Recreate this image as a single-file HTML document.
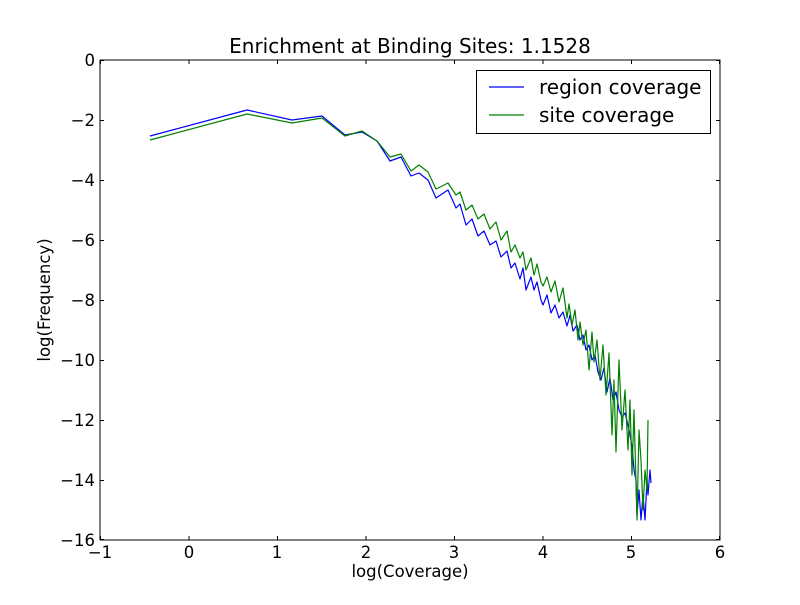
<!DOCTYPE html>
<html><head><style>body{margin:0;background:#fff}</style></head><body>
<svg width="800" height="600" xmlns="http://www.w3.org/2000/svg" font-family="DejaVu Sans, Liberation Sans, sans-serif">
<rect width="800" height="600" fill="#fff"/>
<text x="410" y="53" font-size="20" text-anchor="middle">Enrichment at Binding Sites: 1.1528</text>
<g fill="none" stroke-width="1.2" stroke-linejoin="round">
<polyline stroke="#0000ff" points="150,136 247,110 292,120 322,116 345,135 362,132 377,141 390,161 401,157 411,176 419,173 428,180 436,198 448,190 456,208 460,204 466,225 472,219 478,236 484,231 490,245 496,241 501,257 507,251 511,268 515,263 520,279 523,268 526,290 531,277 534,290 537,282 541,300 543,305 547,295 551,313 555,305 559,318 563,312 567,326 570,315 573,331 577,325 580,340 583,335 586,350 589,345 592,360 595,355 598,372 601,380 604,368 607,392 610,378 613,400 616,392 619,410 622,417 625,413 628,425 630,435 632,446 634,470 636,480 637,515 639,490 641,520 643,495 645,520 647,480 648,495 650,470 651,483"/>
<polyline stroke="#008000" points="150,140 247,114 292,123 322,118 345,136 362,131 377,141 390,157 401,154 411,171 419,165 428,172 436,189 448,183 456,195 460,192 466,210 472,205 478,219 484,214 490,229 496,222 501,240 507,231 511,252 515,245 520,258 523,252 526,270 531,258 534,275 537,264 541,282 543,286 547,277 551,292 555,281 559,302 563,288 567,318 569,304 572,325 575,310 578,340 580,322 583,345 586,330 589,370 592,332 594,362 597,340 600,380 603,345 606,395 609,353 612,435 614,380 616,452 619,360 622,430 625,390 628,450 630,400 632,475 634,410 637,520 639,430 641,460 643,510 645,470 647,490 648,420"/>
</g>
<rect x="100" y="60" width="620" height="480" fill="none" stroke="#000" stroke-width="1"/>
<g stroke="#000" stroke-width="1">
<path d="M100.5,540v-4M189,540v-4M277.5,540v-4M366,540v-4M454.5,540v-4M543,540v-4M631.5,540v-4M719.5,540v-4M100.5,60v4M189,60v4M277.5,60v4M366,60v4M454.5,60v4M543,60v4M631.5,60v4M719.5,60v4"/>
<path d="M100,60.5h4M100,120.5h4M100,180.5h4M100,240.5h4M100,300.5h4M100,360.5h4M100,420.5h4M100,480.5h4M100,539.5h4M720,60.5h-4M720,120.5h-4M720,180.5h-4M720,240.5h-4M720,300.5h-4M720,360.5h-4M720,420.5h-4M720,480.5h-4M720,539.5h-4"/>
</g>
<g font-size="16.5" text-anchor="middle">
<text x="100" y="558">−1</text><text x="189" y="558">0</text><text x="277" y="558">1</text><text x="366" y="558">2</text><text x="454" y="558">3</text><text x="543" y="558">4</text><text x="631" y="558">5</text><text x="720" y="558">6</text>
</g>
<g font-size="16.5" text-anchor="end">
<text x="95" y="66">0</text><text x="95" y="126">−2</text><text x="95" y="186">−4</text><text x="95" y="246">−6</text><text x="95" y="306">−8</text><text x="95" y="366">−10</text><text x="95" y="426">−12</text><text x="95" y="486">−14</text><text x="95" y="546">−16</text>
</g>
<text x="410" y="577" font-size="16.5" text-anchor="middle">log(Coverage)</text>
<text x="50" y="300" font-size="16.5" text-anchor="middle" transform="rotate(-90 50 300)">log(Frequency)</text>
<rect x="476.5" y="70.5" width="234" height="63" fill="#fff" stroke="#000"/>
<line x1="489" y1="87" x2="524" y2="87" stroke="#0000ff" stroke-width="1.2"/>
<line x1="489" y1="115" x2="524" y2="115" stroke="#008000" stroke-width="1.2"/>
<text x="539" y="94" font-size="20">region coverage</text>
<text x="539" y="122" font-size="20">site coverage</text>
</svg>
</body></html>
